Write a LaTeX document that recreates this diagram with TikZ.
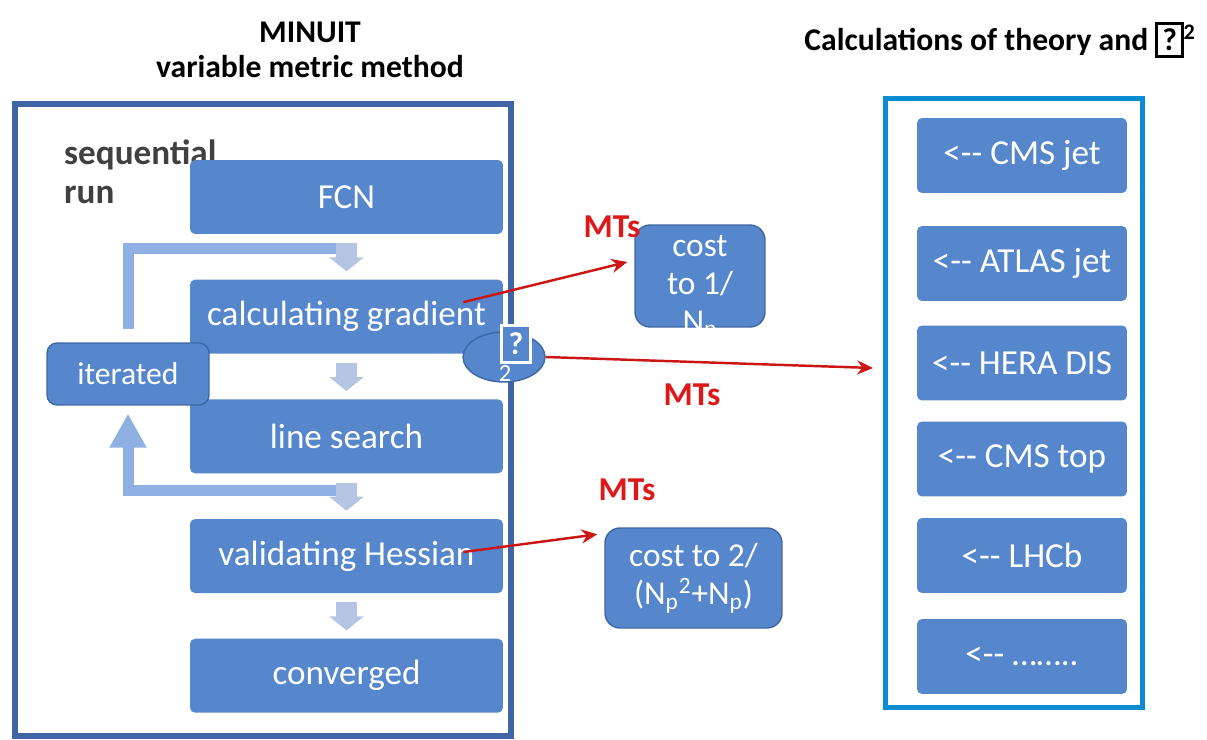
\documentclass[tikz,border=0pt]{standalone}
\usepackage{fontspec}
\setmainfont{Carlito}
\usetikzlibrary{arrows.meta,positioning,shapes.geometric,backgrounds}
\definecolor{boxblue}{RGB}{86,135,204}
\definecolor{edgeblue}{RGB}{62,102,165}
\definecolor{framesky}{RGB}{10,140,210}
\definecolor{flowlight}{RGB}{182,196,228}
\definecolor{looplight}{RGB}{143,176,226}
\definecolor{mtred}{RGB}{222,24,24}
\definecolor{darktext}{RGB}{64,64,64}
\newcommand{\qmark}[1][2pt]{{\fboxsep=#1\fboxrule=1.4pt\fbox{\bfseries ?}}}
\tikzset{
    stage/.style={rectangle, fill=boxblue, text=white, rounded corners=0.1cm, minimum width=6.26cm, minimum height=1.48cm, font=\fontsize{20}{24}\selectfont}, % steps of the fit
    source/.style={rectangle, fill=boxblue, text=white, rounded corners=0.1cm, minimum width=4.2cm, minimum height=1.5cm, font=\fontsize{20}{24}\selectfont}, % data sets
    costbox/.style={rectangle, fill=boxblue, draw=edgeblue, line width=0.8pt, text=white, rounded corners=0.3cm, font=\fontsize{19}{22}\selectfont},
    flow/.style={draw=flowlight, line width=0.42cm, -{Triangle[length=0.28cm,width=0.68cm]}, shorten <=0.18cm, shorten >=0.16cm},
    loopline/.style={draw=looplight, line width=0.22cm},
    mts/.style={text=mtred, font=\bfseries\fontsize{19}{22}\selectfont},
    redarrow/.style={draw=mtred!92!black, line width=1.4pt, -{Stealth[length=9pt,width=8pt]}},
    heading/.style={font=\bfseries\fontsize{18}{20}\selectfont, align=center}
}
\begin{document}
\begin{tikzpicture}[x=0.02cm, y=-0.02cm]
    \useasboundingbox (0,0) rectangle (1207,740);

    % titles
    \node[heading] (mtitle) at (310,50) {MINUIT\\variable metric method};
    \node[heading, anchor=east] (ttitle) at (1202,40) {Calculations of theory and \qmark[2.5pt]\textsuperscript{2}};

    % frames
    \node[draw=edgeblue, line width=0.12cm, minimum width=9.92cm, minimum height=12.64cm] (minuit) at (263,420) {};
    \node[draw=framesky, line width=0.1cm, minimum width=5.16cm, minimum height=12.2cm] (theory) at (1014,403) {};

    \node[font=\bfseries\fontsize{20}{22}\selectfont, text=darktext, align=left, anchor=north west] (seqrun) at (58,134) {sequential\\run};

    % fit steps
    \node[stage] (fcn) at (346.5,197) {FCN};
    \node[stage, below=0.9cm of fcn] (grad) {calculating gradient};
    \node[stage, below=0.9cm of grad] (lsearch) {line search};
    \node[stage, below=0.9cm of lsearch] (hess) {validating Hessian};
    \node[stage, below=0.9cm of hess] (conv) {converged};

    \node[costbox, minimum width=3.24cm, minimum height=1.24cm, rounded corners=0.2cm, font=\fontsize{18}{22}\selectfont] (iter) at (128,374) {iterated};

    % iteration loop
    \begin{scope}[on background layer]
        \draw[loopline] ([yshift=0.26cm]iter.north) |- ([yshift=-0.28cm]fcn.south);
        \draw[loopline, -{Triangle[length=0.68cm,width=0.7cm]}] ([yshift=-0.34cm]lsearch.south) -| ([yshift=-0.16cm]iter.south);
    \end{scope}

    \draw[flow] (fcn) -- (grad);
    \draw[flow] (grad) -- (lsearch);
    \draw[flow] (lsearch) -- (hess);
    \draw[flow] (hess) -- (conv);

    % chi2 bubble
    \node[ellipse, fill=boxblue, draw=edgeblue, line width=0.8pt, minimum width=1.64cm, minimum height=1.0cm] (chi) at (504,357) {};
    \node[text=white, fill=boxblue, inner sep=0pt, font=\fontsize{18}{20}\selectfont] (chiq) at (516,344) {\qmark[3.5pt]};
    \node[text=white, inner sep=0pt, font=\fontsize{14}{16}\selectfont] (chitwo) at (505,374) {2};

    % costs
    \node[costbox, minimum width=2.6cm, minimum height=2.04cm] (costone) at (700,276) {};
    \begin{scope}
        \clip[rounded corners=0.3cm] (635,225) rectangle (765,327);
        \node[text=white, align=center, anchor=north, font=\fontsize{19}{21.6}\selectfont] (costtxt) at (700,229) {cost\\to 1/\\N\textsubscript{p}};
    \end{scope}
    \node[costbox, minimum width=3.54cm, minimum height=2.0cm, align=center] (costtwo) at (693.5,578) {cost to 2/\\(N\textsubscript{p}\textsuperscript{2}+N\textsubscript{p})};

    % data sets
    \foreach \n/\y/\t in {cms/155.5/{<-{}- CMS jet}, atlas/263.5/{<-{}- ATLAS jet}, hera/363/{<-{}- HERA DIS}, top/459/{<-{}- CMS top}, lhcb/555.5/{<-{}- LHCb}, more/656.5/{<-{}- ……..}}
        \node[source] (\n) at (1022,\y) {\t};

    % multithreading
    \coordinate (hit) at (873,368);
    \draw[redarrow] ([xshift=-0.8cm,yshift=0.29cm]grad.east) -- ([xshift=-0.14cm,yshift=0.28cm]costone.west);
    \draw[redarrow] (chi.east) -- (hit);
    \draw[redarrow] ([xshift=-0.8cm,yshift=0.08cm]hess.east) -- ([xshift=-0.14cm,yshift=-0.14cm]costtwo.north west);
    \node[mts] (mtsa) at (612,227) {MTs};
    \node[mts] (mtsb) at (692,395) {MTs};
    \node[mts] (mtsc) at (627,490) {MTs};
\end{tikzpicture}
\end{document}
